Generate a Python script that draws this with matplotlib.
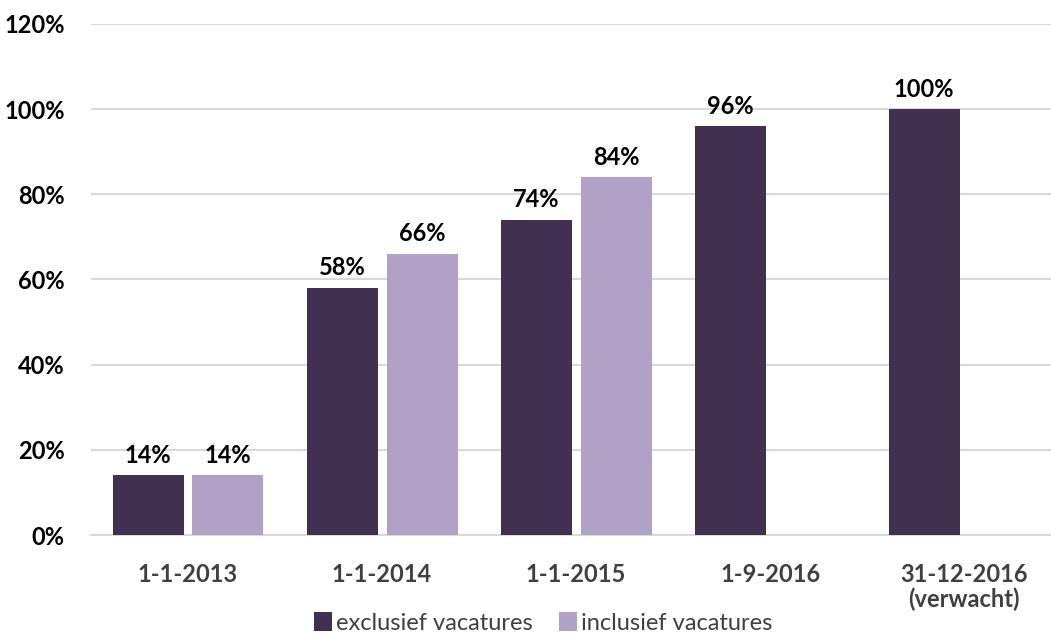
import matplotlib.pyplot as plt
import numpy as np

plt.rcParams['font.family'] = ['Lato', 'DejaVu Sans']

dates = ["1-1-2013", "1-1-2014", "1-1-2015", "1-9-2016", "31-12-2016\n(verwacht)"]
exclusief = [14, 58, 74, 96, 100]
inclusief = [14, 66, 84, None, None]
yticks = [0, 20, 40, 60, 80, 100, 120]

DARK = "#41304f"
LIGHT = "#b2a1c7"


def main():
    fig = plt.figure(figsize=(10.51, 6.36), dpi=100)
    ax = fig.add_axes([0.0866, 0.1588, 0.923, 0.8035])

    x = np.arange(len(dates))
    width = 0.366
    offset = 0.206

    ex_vals = [v / 100 for v in exclusief]
    b1 = ax.bar(x - offset, ex_vals, width, color=DARK, zorder=3,
                label="exclusief vacatures")
    inc_x = [xi + offset for xi, v in zip(x, inclusief) if v is not None]
    inc_vals = [v / 100 for v in inclusief if v is not None]
    b2 = ax.bar(inc_x, inc_vals, width, color=LIGHT, zorder=3,
                label="inclusief vacatures")

    # value labels above bars
    for xi, v in zip(x - offset, exclusief):
        ax.text(xi, v / 100 + 0.02, f"{v}%", ha="center", va="bottom",
                fontsize=17, fontweight="bold", color="black")
    for xi, v in zip(inc_x, [v for v in inclusief if v is not None]):
        ax.text(xi, v / 100 + 0.02, f"{v}%", ha="center", va="bottom",
                fontsize=17, fontweight="bold", color="black")

    ax.set_xlim(-0.5, len(dates) - 0.5)
    ax.set_ylim(0, 1.2)
    ax.set_yticks([t / 100 for t in yticks])
    ax.set_yticklabels([f"{t}%" for t in yticks], fontsize=17,
                       fontweight="bold", color="black")
    ax.set_xticks(x)
    ax.set_xticklabels(dates, fontsize=17, fontweight="bold",
                       color="#404040", linespacing=1.1)
    ax.tick_params(axis="both", length=0)
    ax.tick_params(axis="y", pad=19)
    ax.tick_params(axis="x", pad=20)

    ax.grid(axis="y", color="#d9d9d9", linewidth=1.5, zorder=0)
    for s in ["top", "right", "left"]:
        ax.spines[s].set_visible(False)
    ax.spines["bottom"].set_color("#d9d9d9")
    ax.spines["bottom"].set_linewidth(1.5)

    fig.legend(handles=[b1, b2], loc="lower center",
               bbox_to_anchor=(0.517, -0.03), ncol=2, frameon=False,
               fontsize=17, handlelength=0.75, handleheight=0.9,
               handletextpad=0.2, columnspacing=1.1, labelcolor="#404040")

    fig.savefig("out.png", dpi=100)


if __name__ == "__main__":
    main()
